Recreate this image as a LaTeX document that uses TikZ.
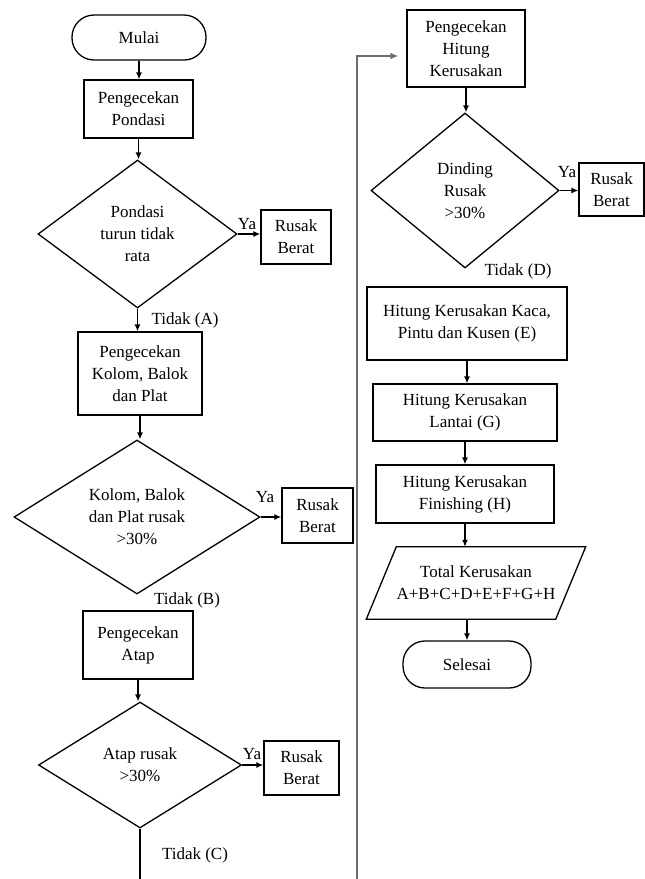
\documentclass[tikz,border=0pt]{standalone}
\usepackage{fontspec}
\setmainfont{Liberation Serif}
\usetikzlibrary{shapes.geometric,arrows.meta}
\definecolor{linegray}{RGB}{110,110,110}
\begin{document}
\begin{tikzpicture}[x=1pt,y=-1pt,
  every node/.style={font=\fontsize{17}{22}\selectfont},
  box/.style={draw,line width=1.3pt,align=center,inner sep=0pt},
  term/.style={draw,line width=1.3pt,rounded corners=22pt,align=center,inner sep=0pt},
  dec/.style={draw,line width=1.3pt,shape=diamond,aspect=1.3,align=center,inner sep=0pt},
  lbl/.style={inner sep=0pt},
  arr/.style={line width=1.3pt,-{Latex[length=7pt,width=6pt]}},
  ln/.style={line width=1.3pt},
  gline/.style={line width=2.6pt,draw=linegray}]
\useasboundingbox (0,0) rectangle (645,879);
% left column
\node[term,minimum width=134pt,minimum height=45pt] (mulai) at (139,37.5) {Mulai};
\node[box,minimum width=109pt,minimum height=58pt] (p1) at (138.5,109) {Pengecekan\\Pondasi};
\node[dec,minimum width=199pt,minimum height=148pt] (d1) at (137.5,234) {Pondasi\\turun tidak\\rata};
\node[box,minimum width=70pt,minimum height=54pt] (rb1) at (296,237) {Rusak\\Berat};
\node[lbl] (ya1) at (247,224) {Ya};
\node[lbl] (tA) at (185,320) {Tidak (A)};
\node[box,minimum width=124pt,minimum height=83pt] (p2) at (140,373.5) {Pengecekan\\Kolom, Balok\\dan Plat};
\node[dec,minimum width=246pt,minimum height=154pt] (d2) at (137,517) {Kolom, Balok\\dan Plat rusak\\>30\%};
\node[box,minimum width=71pt,minimum height=55pt] (rb2) at (317.5,515.5) {Rusak\\Berat};
\node[lbl] (ya2) at (265,497) {Ya};
\node[lbl] (tB) at (187,600) {Tidak (B)};
\node[box,minimum width=110pt,minimum height=68pt] (p3) at (138,645) {Pengecekan\\Atap};
\node[dec,minimum width=203pt,minimum height=126pt] (d3) at (140,765) {Atap rusak\\>30\%};
\node[box,minimum width=75pt,minimum height=54pt] (rb3) at (301.5,768) {Rusak\\Berat};
\node[lbl] (ya3) at (252,754) {Ya};
\node[lbl] (tC) at (195,855) {Tidak (C)};
\coordinate (cend) at (140,879);
% right column
\node[box,minimum width=118pt,minimum height=77pt] (hk) at (466,48.5) {Pengecekan\\Hitung\\Kerusakan};
\node[dec,minimum width=188pt,minimum height=155pt] (d4) at (465,190.5) {Dinding\\Rusak\\>30\%};
\node[box,minimum width=65pt,minimum height=53pt] (rb4) at (611.5,189.5) {Rusak\\Berat};
\node[lbl] (ya4) at (567,172) {Ya};
\node[lbl] (tD) at (518,271) {Tidak (D)};
\node[box,minimum width=200pt,minimum height=73pt] (e) at (467,323.5) {Hitung Kerusakan Kaca,\\Pintu dan Kusen (E)};
\node[box,minimum width=184pt,minimum height=57pt] (g) at (465,412.5) {Hitung Kerusakan\\Lantai (G)};
\node[box,minimum width=178pt,minimum height=58pt] (h) at (465,494) {Hitung Kerusakan\\Finishing (H)};
\node[inner sep=0pt,align=center,minimum width=189pt,minimum height=72pt] (tot) at (476,583) {Total Kerusakan\\A+B+C+D+E+F+G+H};
\draw[ln] ([xshift=15pt]tot.north west) -- ([xshift=15pt]tot.north east) -- ([xshift=-15pt]tot.south east) -- ([xshift=-15pt]tot.south west) -- cycle;
\node[term,minimum width=128pt,minimum height=47pt] (sel) at (467,664.5) {Selesai};
\coordinate (gstart) at (357,879);
% connectors
\draw[arr] (mulai.south) -- (mulai.south |- p1.north);
\draw[arr] (p1.south) -- (p1.south |- d1.north);
\draw[arr] (d1.east) -- (d1.east -| rb1.west);
\draw[arr] (d1.south) -- (d1.south |- p2.north);
\draw[arr] (p2.south) -- (p2.south |- d2.north);
\draw[arr] (d2.east) -- (d2.east -| rb2.west);
\draw[arr] (p3.south) -- (p3.south |- d3.north);
\draw[arr] (d3.east) -- (d3.east -| rb3.west);
\draw[ln] (d3.south) -- (cend);
\draw[gline,-{Latex[length=8pt,width=7pt]},shorten >=8pt] (gstart) |- ([yshift=-7.5pt]hk.west);
\draw[arr] (hk.south) -- (hk.south |- d4.north);
\draw[arr] (d4.east) -- (d4.east -| rb4.west);
\draw[arr] (e.south) -- (e.south |- g.north);
\draw[arr] (g.south) -- (g.south |- h.north);
\draw[arr] (h.south) -- (h.south |- tot.north);
\draw[arr] (sel.north |- tot.south) -- (sel.north);
\end{tikzpicture}
\end{document}
